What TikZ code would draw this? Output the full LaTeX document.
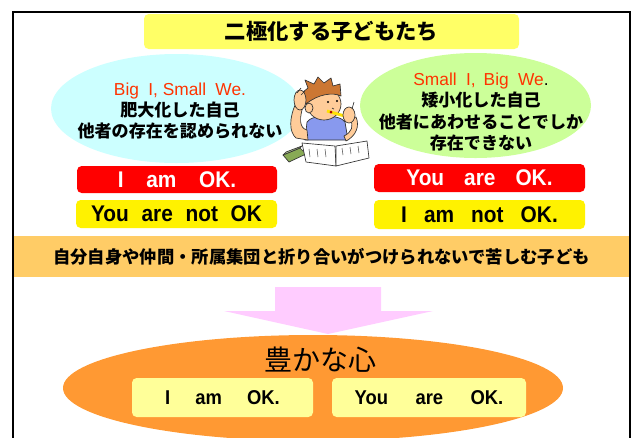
\documentclass[tikz,border=0pt]{standalone}
\usepackage{fontspec}
\setmainfont{Liberation Sans}
\newfontfamily\jp{Noto Sans CJK JP}
\newfontfamily\okfont{Liberation Sans}[FakeStretch=0.92]
\usetikzlibrary{shapes.geometric}

\definecolor{titleyellow}{HTML}{FFFF66}
\definecolor{leftblue}{HTML}{CCFFFF}
\definecolor{rightgreen}{HTML}{CCFF99}
\definecolor{redtext}{HTML}{FF3300}
\definecolor{bandorange}{HTML}{FFCC66}
\definecolor{arrowpink}{HTML}{FFCCFF}
\definecolor{heartorange}{HTML}{FF9933}
\definecolor{paleyellow}{HTML}{FFFF99}
\definecolor{skin}{HTML}{FFCC99}
\definecolor{hair}{HTML}{CC7733}
\definecolor{shirt}{HTML}{8899EE}
\definecolor{eraser}{HTML}{88AA55}

\newcommand\redline[1]{{\normalfont\fontsize{13}{16}\selectfont\color{redtext}#1}}

\begin{document}
\begin{tikzpicture}[x=0.75pt,y=-0.75pt,
  okbox/.style={rounded corners=3.5pt, inner sep=0pt, font=\okfont\bfseries\fontsize{17}{19}\selectfont},
  jptext/.style={align=center, inner sep=0pt, font=\jp\bfseries\fontsize{12.8}{16}\selectfont},
  bubble/.style={ellipse, inner sep=0pt},
  kid/.style={draw=black!80, line width=0.5pt, line join=round}]
\useasboundingbox (0,0) rectangle (633,437);

% frame
\draw[line width=1.2pt] (13,445) -- (13,12) -- (630,12) -- (630,445);

% title
\node[fill=titleyellow, rounded corners=3.5pt, minimum width=281.25pt, minimum height=26.25pt, inner sep=0pt, font=\jp\bfseries\fontsize{16}{18}\selectfont] (title) at (331.5,31.5) {二極化する子どもたち};

% the two kinds of children
\node[bubble, fill=leftblue, minimum width=188.25pt, minimum height=81.75pt] (bigI) at (176.5,108.5) {};
\node[bubble, fill=rightgreen, minimum width=173.25pt, minimum height=78.75pt] (smallI) at (475.5,105.5) {};
\node[jptext] (bigItext) at (180,111) {\redline{Big\hspace{7pt}I,\ Small\hspace{7pt}We.}\\肥大化した自己\\他者の存在を認められない};
\node[jptext] (smallItext) at (481,112) {\redline{Small\hspace{7pt}I,\hspace{6pt}Big\hspace{7pt}We}{\normalfont\fontsize{13}{16}\selectfont.}\\矮小化した自己\\他者にあわせることでしか\\存在できない};

% boy with a book
\filldraw[kid, fill=eraser] (283,155) -- (300,148) -- (306,154) -- (289,162) -- cycle;
\filldraw[kid, fill=eraser!60] (283,155) -- (300,148) -- (302,146) -- (286,152) -- cycle;
\filldraw[kid, fill=shirt] (305,140) -- (307,122) .. controls (312,114) and (340,114) .. (345,122) -- (348,140) -- cycle;
\filldraw[kid, fill=skin] (308,140) -- (296,138) .. controls (289,132) and (289,118) .. (296,103) -- (304,103) .. controls (299,118) and (299,128) .. (307,130) -- cycle;
\filldraw[kid, fill=skin] (344,136) .. controls (352,132) and (354,126) .. (350,119) -- (356,117) .. controls (360,126) and (356,136) .. (346,141) -- cycle;
\filldraw[kid, fill=skin] (324,104) ellipse [x radius=17, y radius=16];
\filldraw[kid, fill=skin] (309,108) ellipse [x radius=4, y radius=5];
\filldraw[kid, fill=hair] (306,104) -- (303,92) -- (308,88) -- (305,80) -- (314,84) -- (318,77) -- (324,83) -- (331,78) -- (333,86) -- (340,84) -- (341,96) .. controls (333,92) and (318,94) .. (306,104) -- cycle;
\filldraw[kid, fill=skin] (300,100) ellipse [x radius=6, y radius=10];
\draw[kid] (297,93) -- (301,88) (301,95) -- (305,91);
\fill (328,102) circle (1.2) (337,101) circle (1.2);
\draw[kid] (332,108) -- (334,109);
\draw[line width=2.2pt, yellow!85!orange] (327,111) -- (348,117);
\fill[red!70!black] (331,112) circle (1.5);
\filldraw[kid, fill=skin] (349,115) ellipse [x radius=6, y radius=8];
\draw[kid] (352,109) -- (354,102);
\filldraw[kid, fill=white] (302,143) -- (335,146) -- (336,166) -- (306,162) -- cycle;
\filldraw[kid, fill=white] (336,146) -- (367,141) -- (369,158) -- (336,166) -- cycle;
\foreach \i in {0,1,2} {
  \draw[black!70, line width=0.4pt] (309+8*\i,149) -- (310+8*\i,157);
  \draw[black!70, line width=0.4pt] (342+8*\i,148-\i) -- (343+8*\i,155-\i);
}

% OK boxes
\node[okbox, fill=red, text=white, minimum width=150pt, minimum height=20.25pt] (leftok) at (177,179.5) {I\hspace{17pt}am\hspace{17pt}OK.};
\node[okbox, fill=yellow, minimum width=150.75pt, minimum height=21pt] (leftnot) at (176.5,214) {You\hspace{9.5pt}are\hspace{9.5pt}not\hspace{9.5pt}OK};
\node[okbox, fill=red, text=white, minimum width=158.25pt, minimum height=21pt] (rightok) at (479.5,178) {You\hspace{15pt}are\hspace{15pt}OK.};
\node[okbox, fill=yellow, minimum width=158.25pt, minimum height=21.75pt] (rightnot) at (479.5,214.5) {I\hspace{12.8pt}am\hspace{12.8pt}not\hspace{12.8pt}OK.};

% band
\node[fill=bandorange, minimum width=461.25pt, minimum height=30.75pt, inner sep=0pt, font=\jp\bfseries\fontsize{13}{15}\selectfont] (band) at (321.5,256.5) {自分自身や仲間・所属集団と折り合いがつけられないで苦しむ子ども};

% arrow down
\fill[arrowpink] (275,287) -- (381,287) -- (381,311) -- (433,311) -- (328,334) -- (224,311) -- (275,311) -- cycle;

% rich heart
\node[bubble, fill=heartorange, minimum width=375pt, minimum height=79.5pt] (heart) at (313,388) {};
\node[font=\jp\fontsize{21}{24}\selectfont, inner sep=0pt] (hearttext) at (320,360) {豊かな心};
\node[okbox, fill=paleyellow, minimum width=135.75pt, minimum height=29.25pt, font=\okfont\bfseries\fontsize{15}{17}\selectfont] (iok) at (222.5,397.5) {I\hspace{18.8pt}am\hspace{18.8pt}OK.};
\node[okbox, fill=paleyellow, minimum width=145.5pt, minimum height=29.25pt, font=\okfont\bfseries\fontsize{15}{17}\selectfont] (youok) at (429,397.5) {You\hspace{20.6pt}are\hspace{20.6pt}OK.};
\end{tikzpicture}
\end{document}
